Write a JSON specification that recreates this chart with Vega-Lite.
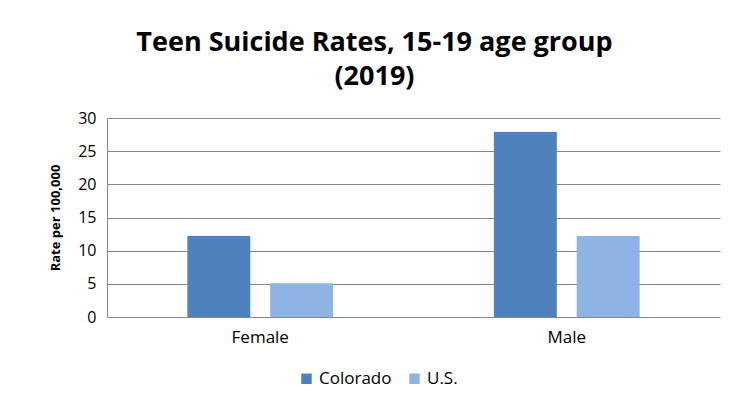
{
  "$schema": "https://vega.github.io/schema/vega-lite/v6.json",
  "autosize": "none",
  "width": 613,
  "height": 199,
  "padding": {"left": 107, "top": 118, "right": 12, "bottom": 83},
  "background": "white",
  "config": {
    "font": "Open Sans",
    "view": {"stroke": null}
  },
  "title": {
    "text": ["Teen Suicide Rates, 15-19 age group", "(2019)"],
    "fontSize": 27,
    "fontWeight": "bold",
    "color": "#000000",
    "anchor": "middle",
    "dx": -39,
    "offset": 19,
    "lineHeight": 34
  },
  "data": {
    "values": [
      {"sex": "Female", "region": "Colorado", "rate": 12.2},
      {"sex": "Female", "region": "U.S.", "rate": 5.1},
      {"sex": "Male", "region": "Colorado", "rate": 27.9},
      {"sex": "Male", "region": "U.S.", "rate": 12.2}
    ]
  },
  "mark": {"type": "bar"},
  "encoding": {
    "x": {
      "field": "sex",
      "type": "nominal",
      "scale": {"paddingInner": 0, "paddingOuter": 0},
      "axis": {
        "title": null,
        "labelAngle": 0,
        "labelFontSize": 17,
        "labelColor": "#000000",
        "ticks": false,
        "domain": false,
        "labelPadding": 12
      }
    },
    "xOffset": {
      "field": "region",
      "type": "nominal",
      "scale": {"paddingInner": 0.24, "paddingOuter": 0.97}
    },
    "y": {
      "field": "rate",
      "type": "quantitative",
      "scale": {"domain": [0, 30], "nice": false},
      "axis": {
        "values": [0, 5, 10, 15, 20, 25, 30],
        "title": "Rate per 100,000",
        "titleFontSize": 13,
        "titleFontWeight": "bold",
        "titleColor": "#000000",
        "titlePadding": 15,
        "labelFontSize": 16,
        "labelColor": "#000000",
        "labelPadding": 11,
        "ticks": false,
        "domainColor": "#868686",
        "gridColor": "#868686",
        "gridWidth": 1
      }
    },
    "color": {
      "field": "region",
      "type": "nominal",
      "scale": {"domain": ["Colorado", "U.S."], "range": ["#4F81BD", "#8EB4E3"]},
      "legend": {
        "title": null,
        "orient": "none",
        "direction": "horizontal",
        "legendX": 191,
        "legendY": 252,
        "symbolType": "square",
        "symbolSize": 110,
        "symbolStrokeWidth": 0,
        "labelFontSize": 17,
        "labelColor": "#000000",
        "columnPadding": 14
      }
    }
  }
}
